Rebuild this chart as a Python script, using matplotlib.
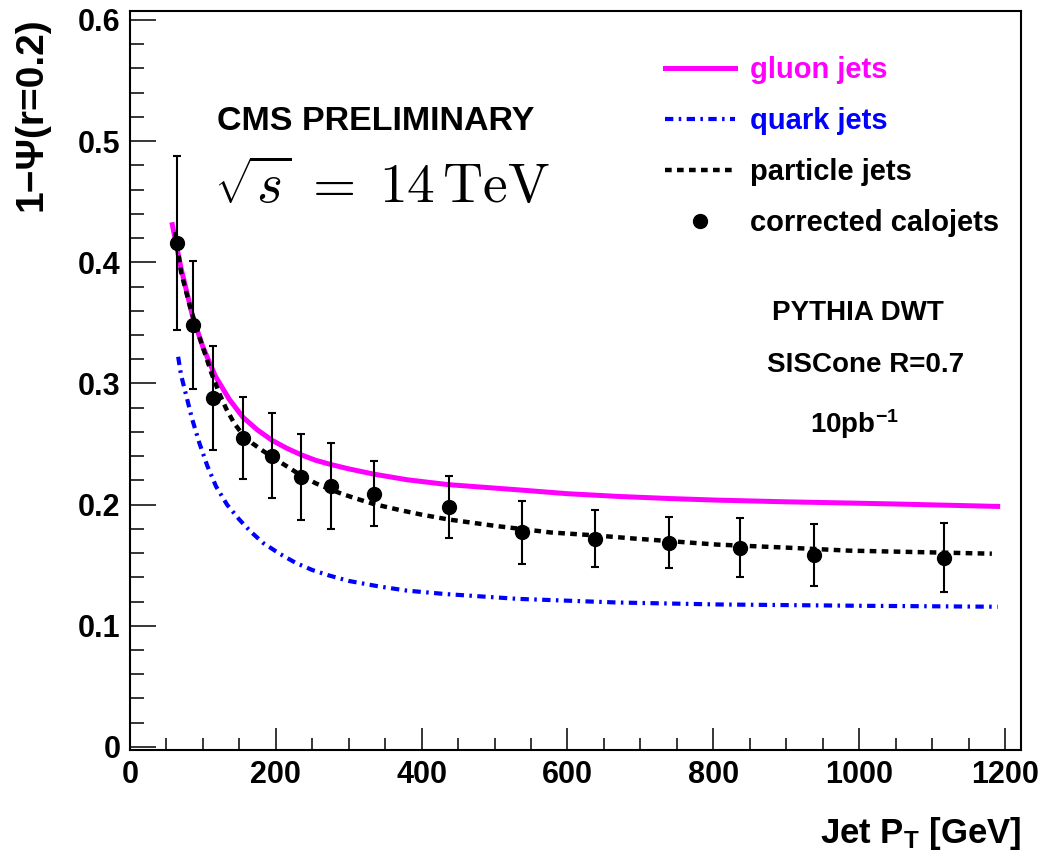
import matplotlib.pyplot as plt

# corrected calojets (points with error bars)
calo_pt = [65, 87, 114, 155, 195, 235, 276, 334, 438, 537, 638, 739, 837, 938, 1117]
calo_val = [0.416, 0.348, 0.288, 0.255, 0.2405, 0.223, 0.215, 0.209, 0.198,
            0.177, 0.172, 0.1685, 0.1645, 0.1587, 0.156]
calo_err = [0.072, 0.053, 0.043, 0.034, 0.035, 0.0355, 0.0355, 0.027, 0.0255,
            0.0258, 0.0235, 0.021, 0.0244, 0.0257, 0.0285]

# gluon jets curve
gluon_pt = [58, 70, 86, 100, 117, 136, 155, 175, 195, 215, 235, 255, 276, 300, 334,
            380, 436, 532, 600, 668, 740, 805, 900, 986, 1050, 1190]
gluon_val = [0.431, 0.395, 0.355, 0.330, 0.306, 0.287, 0.272, 0.2615, 0.253, 0.2465,
             0.241, 0.2365, 0.233, 0.2295, 0.2252, 0.2205, 0.2165, 0.2122, 0.209,
             0.2068, 0.205, 0.2037, 0.2023, 0.2013, 0.2005, 0.1985]

# quark jets curve
quark_pt = [66, 70, 75, 85, 95, 106, 118, 133, 150, 165, 182, 205, 227, 250, 273, 300,
            341, 380, 432, 532, 668, 805, 1000, 1190]
quark_val = [0.322, 0.307, 0.295, 0.271, 0.251, 0.232, 0.215, 0.200, 0.1876, 0.178,
             0.1686, 0.1595, 0.152, 0.146, 0.1415, 0.137, 0.1325, 0.129, 0.1262,
             0.1222, 0.1192, 0.1176, 0.1165, 0.1157]

# particle jets curve
part_pt = [62, 70, 82, 92, 102, 112, 123, 132, 143, 155, 168, 182, 198, 214, 236, 255,
           275, 290, 309, 334, 370, 400, 436, 500, 577, 640, 691, 805, 900, 986, 1080, 1182]
part_val = [0.425, 0.392, 0.364, 0.344, 0.326, 0.308, 0.291, 0.279, 0.267, 0.2575,
            0.2505, 0.2445, 0.238, 0.232, 0.2235, 0.2175, 0.2125, 0.209, 0.2052,
            0.2005, 0.1955, 0.1917, 0.1878, 0.1825, 0.177, 0.1745, 0.172, 0.167,
            0.1645, 0.162, 0.1608, 0.1595]

plt.rcParams['font.family'] = 'Liberation Sans'
plt.rcParams['font.weight'] = 'bold'
plt.rcParams['mathtext.fontset'] = 'custom'
plt.rcParams['mathtext.rm'] = 'Liberation Sans:bold'
plt.rcParams['mathtext.bf'] = 'Liberation Sans:bold'
plt.rcParams['mathtext.it'] = 'Liberation Sans:bold'

fig = plt.figure(figsize=(10.41, 8.57), dpi=100)
ax = fig.add_axes([0.1249, 0.1249, 0.8559, 0.8623])

l_gluon, = ax.plot(gluon_pt, gluon_val, color='#ff00ff', lw=3.6, label='gluon jets')
l_quark, = ax.plot(quark_pt, quark_val, color='#0000ff', lw=3.0,
                   dashes=(2.0, 1.3, 0.6, 1.3), label='quark jets')
l_part, = ax.plot(part_pt, part_val, color='black', lw=3.2,
                  dashes=(1.5, 1.2), dash_capstyle='butt', label='particle jets')
ax.errorbar(calo_pt, calo_val, yerr=calo_err, fmt='none', ecolor='black',
            elinewidth=1.5, capsize=2.6, capthick=1.5, zorder=4)
l_calo, = ax.plot(calo_pt, calo_val, 'o', color='black', ms=10, zorder=5,
                  label='corrected calojets')

ax.set_xlim(0, 1222)
ax.set_ylim(-0.0025, 0.6074)
ax.set_xticks([0, 200, 400, 600, 800, 1000, 1200])
ax.set_xticks(range(0, 1201, 50), minor=True)
ax.set_yticks([0, 0.1, 0.2, 0.3, 0.4, 0.5, 0.6])
ax.set_yticks([i * 0.02 for i in range(31)], minor=True)
ax.set_yticklabels(['0', '0.1', '0.2', '0.3', '0.4', '0.5', '0.6'])
ax.tick_params(axis='both', which='both', direction='in', width=1.1, labelsize=22)
ax.tick_params(axis='y', which='major', length=19, pad=7)
ax.tick_params(axis='y', which='minor', length=10)
ax.tick_params(axis='x', which='major', length=16, pad=7)
ax.tick_params(axis='x', which='minor', length=8.5)
for s in ax.spines.values():
    s.set_linewidth(1.5)

fig.text(32 / 1041, 1 - 17 / 857, '1\u2212\u03a8(r=0.2)', rotation=90, ha='center',
         va='top', fontsize=28, fontweight='bold')
fig.text(1022 / 1041, 1 - 843 / 857, r'Jet P$_{\mathrm{T}}$ [GeV]', ha='right',
         va='baseline', fontsize=25, fontweight='bold')

ax.legend(handles=[l_gluon, l_quark, l_part, l_calo], loc='upper left',
          bbox_to_anchor=(665 / 1041, 1 - 56 / 857), bbox_transform=fig.transFigure,
          frameon=False, fontsize=21, handlelength=2.4, handletextpad=0.5,
          labelspacing=0.79, borderpad=0, borderaxespad=0,
          labelcolor=['#ff00ff', '#0000ff', 'black', 'black'])

fig.text(217 / 1041, 1 - 121 / 857, 'CMS PRELIMINARY', ha='left', va='center',
         fontsize=24.5, fontweight='bold')
fig.text(214 / 1041, 1 - 188 / 857, r'$\sqrt{s}\;=\;14\,\mathrm{TeV}$', ha='left',
         va='center', fontsize=40, math_fontfamily='cm')

fig.text(858 / 1041, 1 - 313 / 857, 'PYTHIA DWT', ha='center', va='center',
         fontsize=20, fontweight='bold')
fig.text(866 / 1041, 1 - 365 / 857, 'SISCone R=0.7', ha='center', va='center',
         fontsize=20, fontweight='bold')
fig.text(854 / 1041, 1 - 433 / 857, r'10pb$^{-1}$', ha='center', va='baseline',
         fontsize=20, fontweight='bold')

plt.savefig('out.png', dpi=100)
